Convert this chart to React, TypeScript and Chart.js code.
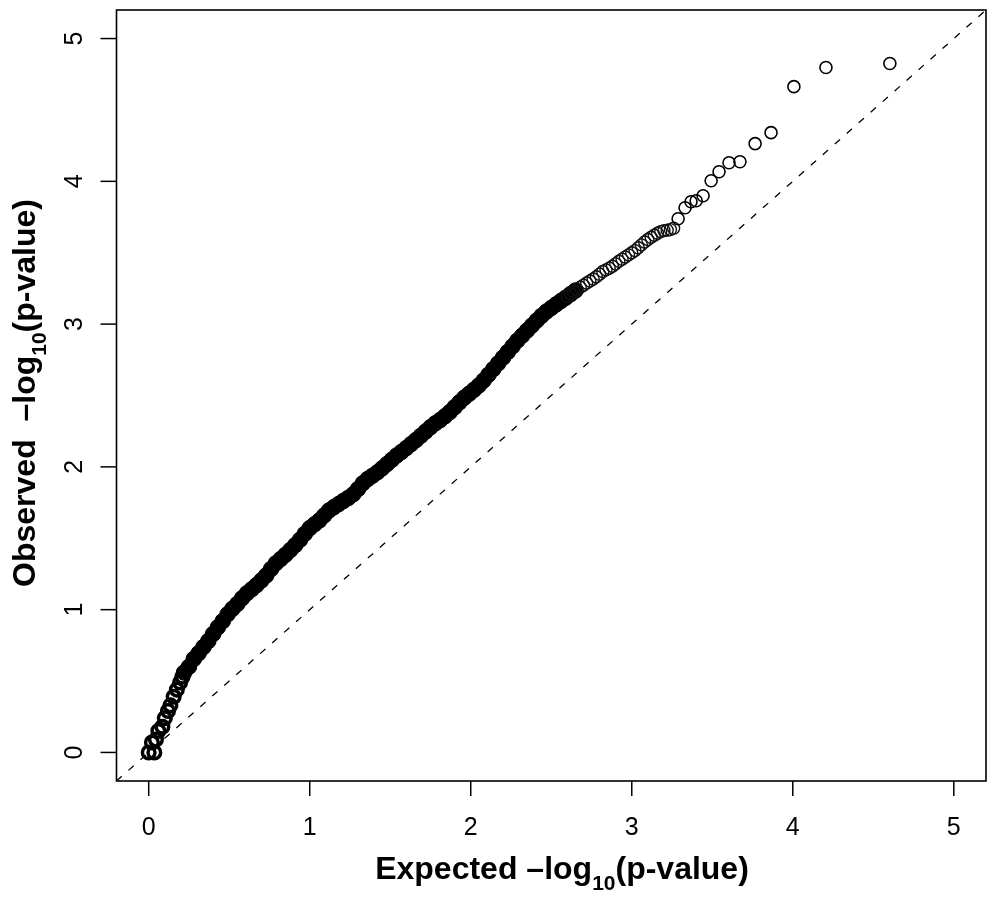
import React, { useRef, useEffect } from 'react';
import Chart from 'chart.js/auto';

// Q-Q plot of observed vs expected -log10(p)
const xTicks = [0, 1, 2, 3, 4, 5];
const yTicks = [0, 1, 2, 3, 4, 5];
const axisRange = [-0.2, 5.2];

// stacked circles close to the origin
const expectedOrigin = [0.0, 0.035, 0.02, 0.045, 0.06, 0.085, 0.1, 0.12, 0.135, 0.155, 0.175, 0.195, 0.21];
const observedOrigin = [0.0, 0.0, 0.07, 0.09, 0.15, 0.18, 0.24, 0.29, 0.33, 0.39, 0.44, 0.49, 0.53];

// solid band of overlapping circles
const expectedBand = [
  0.22, 0.25, 0.28, 0.31, 0.34, 0.37, 0.4, 0.43, 0.46, 0.49, 0.52, 0.55, 0.58, 0.61, 0.64, 0.67, 0.7,
  0.73, 0.76, 0.79, 0.82, 0.85, 0.88, 0.91, 0.94, 0.97, 1.0, 1.03, 1.06, 1.09, 1.12, 1.15, 1.18, 1.21,
  1.24, 1.27, 1.3, 1.33, 1.36, 1.39, 1.42, 1.45, 1.48, 1.51, 1.54, 1.57, 1.6, 1.63, 1.66, 1.69, 1.72,
  1.75, 1.78, 1.81, 1.84, 1.87, 1.9, 1.93, 1.96, 1.99, 2.02, 2.05, 2.08, 2.11, 2.14, 2.17, 2.2, 2.23,
  2.26, 2.29, 2.32, 2.35, 2.38, 2.41, 2.44, 2.47, 2.5, 2.53, 2.56, 2.59, 2.62, 2.65,
];
const observedBand = [
  0.56, 0.6, 0.655, 0.695, 0.738, 0.78, 0.83, 0.877, 0.92, 0.968, 1.006, 1.04, 1.08, 1.115, 1.143, 1.172, 1.205,
  1.24, 1.285, 1.325, 1.355, 1.385, 1.418, 1.452, 1.49, 1.532, 1.571, 1.598, 1.625, 1.66, 1.695, 1.718, 1.74, 1.762,
  1.783, 1.808, 1.845, 1.885, 1.915, 1.938, 1.962, 1.99, 2.02, 2.05, 2.08, 2.105, 2.132, 2.16, 2.188, 2.218, 2.248,
  2.278, 2.305, 2.328, 2.355, 2.384, 2.418, 2.452, 2.485, 2.512, 2.54, 2.57, 2.605, 2.645, 2.685, 2.725, 2.765, 2.805,
  2.845, 2.885, 2.92, 2.955, 2.99, 3.025, 3.058, 3.088, 3.113, 3.138, 3.162, 3.185, 3.21, 3.235,
];

// open circles where the band thins out
const expectedUpper = [
  2.6, 2.62, 2.64, 2.66, 2.68, 2.7, 2.72, 2.74, 2.76, 2.78, 2.8, 2.82, 2.84, 2.86, 2.88, 2.9, 2.92,
  2.94, 2.96, 2.98, 3.0, 3.02, 3.04, 3.06, 3.08, 3.1, 3.12, 3.14, 3.16, 3.18, 3.2, 3.22, 3.24, 3.26,
];
const observedUpper = [
  3.195, 3.212, 3.228, 3.243, 3.258, 3.272, 3.288, 3.302, 3.316, 3.332, 3.35, 3.368, 3.38, 3.392, 3.405, 3.422, 3.44,
  3.455, 3.47, 3.485, 3.5, 3.515, 3.535, 3.555, 3.575, 3.593, 3.608, 3.622, 3.636, 3.648, 3.655, 3.658, 3.662, 3.672,
];

// most significant tail
const expectedTail = [3.288, 3.331, 3.368, 3.4, 3.443, 3.493, 3.542, 3.604, 3.672, 3.766, 3.865, 4.007, 4.206, 4.603];
const observedTail = [3.738, 3.815, 3.857, 3.864, 3.899, 4.004, 4.067, 4.13, 4.137, 4.264, 4.341, 4.663, 4.797, 4.825];

const toPoints = (xs: number[], ys: number[]) => xs.map((x, i) => ({ x, y: ys[i] }));

const FONT = '"Liberation Sans", Arial, sans-serif';

const drawTitle = (ctx: CanvasRenderingContext2D, head: string, sub: string, tail: string) => {
  const mainFont = `bold 32px ${FONT}`;
  const subFont = `bold 21px ${FONT}`;
  ctx.font = mainFont;
  const wHead = ctx.measureText(head).width;
  const wTail = ctx.measureText(tail).width;
  ctx.font = subFont;
  const wSub = ctx.measureText(sub).width;
  let x = -(wHead + wSub + wTail) / 2;
  ctx.textAlign = 'left';
  ctx.textBaseline = 'alphabetic';
  ctx.font = mainFont;
  ctx.fillText(head, x, 0);
  x += wHead;
  ctx.font = subFont;
  ctx.fillText(sub, x, 11);
  x += wSub;
  ctx.font = mainFont;
  ctx.fillText(tail, x, 0);
};

const rFrame = {
  id: 'rFrame',
  afterDraw(chart: any) {
    const { ctx, chartArea: a } = chart;
    const xs = chart.scales.x;
    const ys = chart.scales.y;
    ctx.save();
    ctx.strokeStyle = '#000';
    ctx.fillStyle = '#000';
    ctx.lineWidth = 1.6;
    ctx.strokeRect(a.left, a.top, a.right - a.left, a.bottom - a.top);

    ctx.lineWidth = 1.5;
    ctx.font = `25px ${FONT}`;
    ctx.textAlign = 'center';
    ctx.textBaseline = 'alphabetic';
    xTicks.forEach((v) => {
      const px = xs.getPixelForValue(v);
      ctx.beginPath();
      ctx.moveTo(px, a.bottom);
      ctx.lineTo(px, a.bottom + 15);
      ctx.stroke();
      ctx.fillText(String(v), px, a.bottom + 54);
    });
    yTicks.forEach((v) => {
      const py = ys.getPixelForValue(v);
      ctx.beginPath();
      ctx.moveTo(a.left, py);
      ctx.lineTo(a.left - 16, py);
      ctx.stroke();
      ctx.save();
      ctx.translate(a.left - 34.5, py);
      ctx.rotate(-Math.PI / 2);
      ctx.fillText(String(v), 0, 0);
      ctx.restore();
    });

    ctx.save();
    ctx.translate(562, 879);
    drawTitle(ctx, 'Expected \u2013log', '10', '(p-value)');
    ctx.restore();

    ctx.save();
    ctx.translate(35, 393);
    ctx.rotate(-Math.PI / 2);
    drawTitle(ctx, 'Observed  \u2013log', '10', '(p-value)');
    ctx.restore();
    ctx.restore();
  },
};

const QQChart: React.FC = () => {
  const canvasRef = useRef<HTMLCanvasElement>(null);

  useEffect(() => {
    if (!canvasRef.current) return;
    const hollow = 'rgba(0,0,0,0)';
    const chart = new Chart(canvasRef.current, {
      type: 'scatter',
      data: {
        datasets: [
          {
            type: 'line',
            data: toPoints(axisRange, axisRange),
            showLine: true,
            borderColor: '#000',
            borderWidth: 1.3,
            borderDash: [7, 9],
            pointRadius: 0,
            order: 10,
          },
          {
            data: toPoints(expectedBand, observedBand),
            pointRadius: 7.8,
            pointBorderWidth: 1,
            pointBackgroundColor: '#000',
            pointBorderColor: '#000',
            order: 3,
          },
          {
            data: toPoints(expectedOrigin, observedOrigin),
            pointRadius: 6.3,
            pointBorderWidth: 3.5,
            pointBackgroundColor: hollow,
            pointBorderColor: '#000',
            order: 2,
          },
          {
            data: toPoints(expectedUpper, observedUpper),
            pointRadius: 6,
            pointBorderWidth: 1.4,
            pointBackgroundColor: hollow,
            pointBorderColor: '#111',
            order: 2,
          },
          {
            data: toPoints(expectedTail, observedTail),
            pointRadius: 6,
            pointBorderWidth: 1.6,
            pointBackgroundColor: hollow,
            pointBorderColor: '#000',
            order: 1,
          },
        ],
      },
      options: {
        responsive: false,
        animation: false,
        events: [],
        layout: { padding: { left: 116.5, right: 10, top: 10, bottom: 124 } },
        plugins: { legend: { display: false }, tooltip: { enabled: false } },
        scales: {
          x: { type: 'linear', min: axisRange[0], max: axisRange[1], display: false },
          y: { type: 'linear', min: axisRange[0], max: axisRange[1], display: false },
        },
      },
      plugins: [rFrame],
    });
    return () => chart.destroy();
  }, []);

  return <canvas ref={canvasRef} width={996} height={905} style={{ display: 'block' }} />;
};

export default function App() {
  return (
    <div style={{ position: 'absolute', left: 0, top: 0, width: 996, height: 905, background: '#fff' }}>
      <QQChart />
    </div>
  );
}
